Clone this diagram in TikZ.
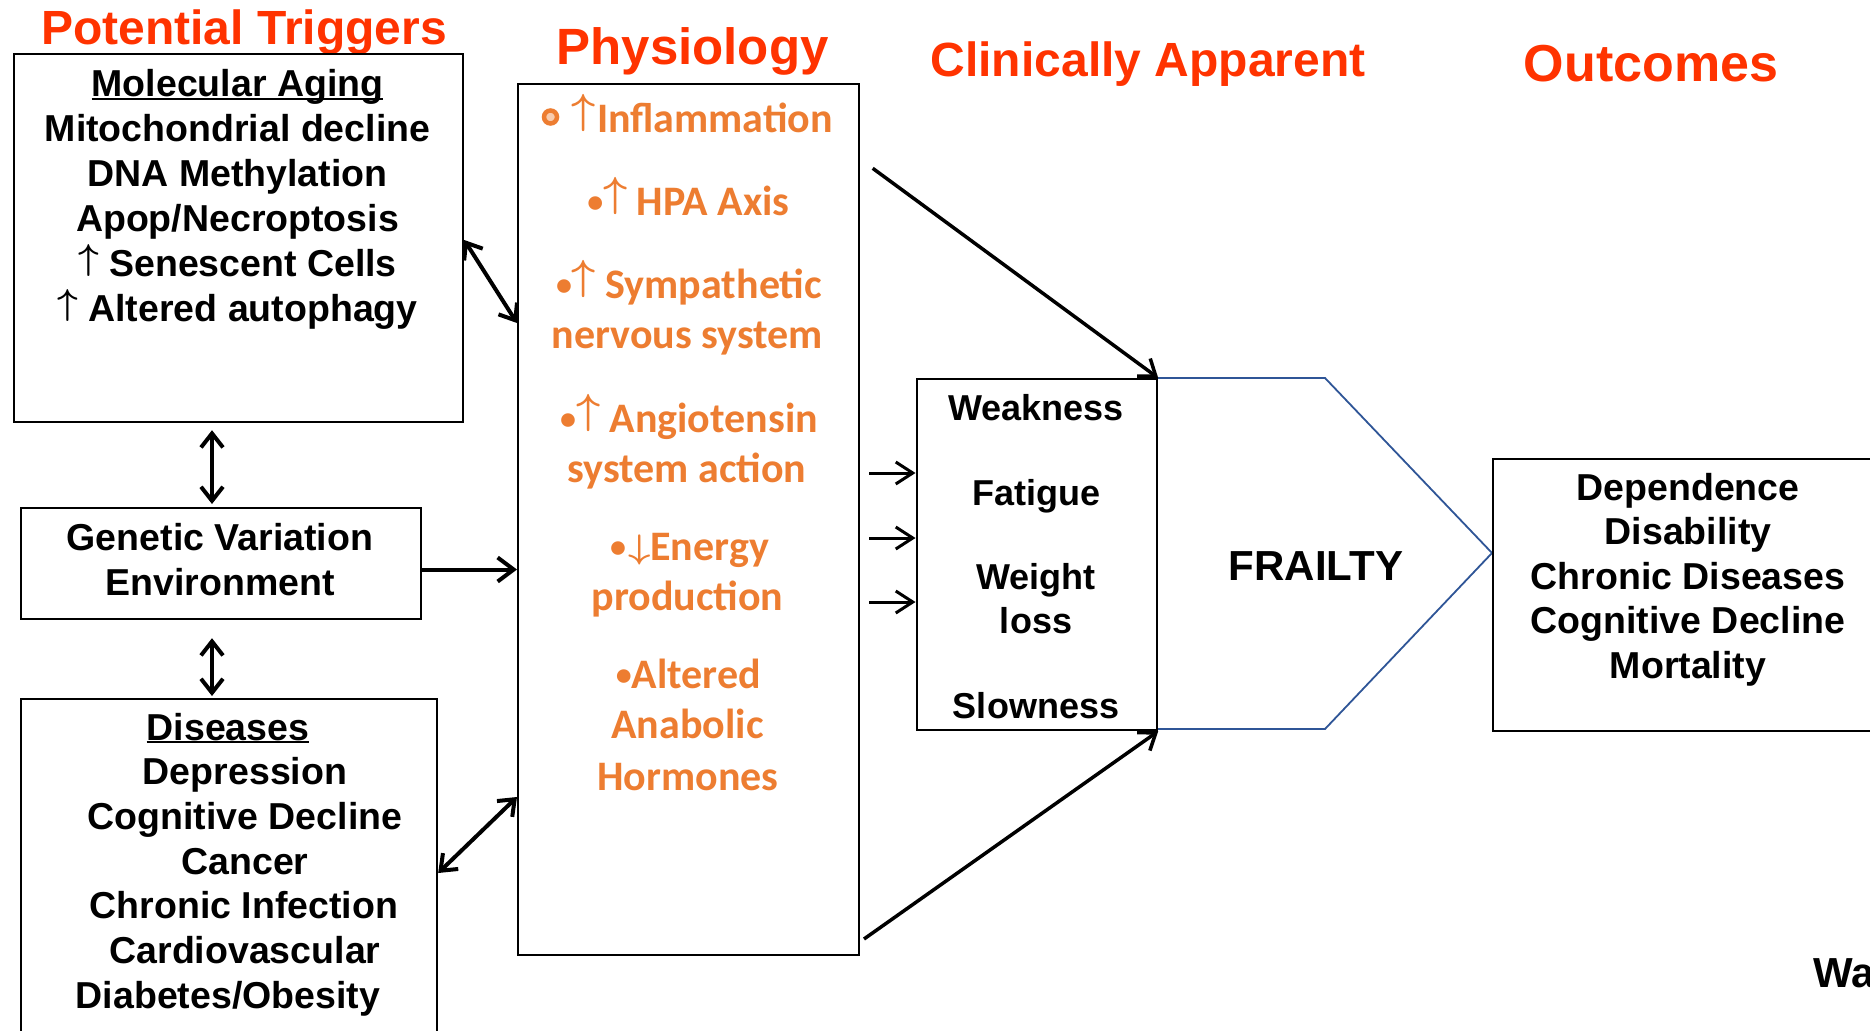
\documentclass[tikz,border=0pt]{standalone}
\usepackage{fontspec}
\usepackage{graphicx}
\setmainfont{Liberation Sans}
\newfontfamily\calfont{Carlito}
\usetikzlibrary{arrows.meta}
\definecolor{hdred}{RGB}{255,51,0}
\definecolor{phorange}{RGB}{237,125,49}
\definecolor{palefill}{RGB}{248,203,173}
\definecolor{frblue}{RGB}{47,85,151}
\newcommand\UpA[1][4.2]{\scalebox{#1}{\fontsize{10}{12}\selectfont\raisebox{1.94pt}{\boldmath$\uparrow$}}}
\newcommand\DnA[1][3.9]{\scalebox{#1}[3.4]{\fontsize{10}{12}\selectfont\raisebox{0.4pt}{\boldmath$\downarrow$}}}
\newcommand\Bul{\raisebox{2.5pt}{\fontsize{32}{32}\selectfont •}}
\newcommand\ULn[1]{\setbox0=\hbox{#1}\rlap{\rule[-3pt]{\wd0}{2pt}}\box0}
\tikzset{
  box/.style={draw, line width=2.2pt, inner sep=0pt, anchor=north west},
  blk/.style={font=\bfseries\fontsize{37.5}{45}\selectfont, anchor=base, inner sep=0pt},
  clt/.style={font=\bfseries\fontsize{36}{43}\selectfont, anchor=base, inner sep=0pt},
  orn/.style={font=\calfont\bfseries\fontsize{42}{50}\selectfont, text=phorange, anchor=base, inner sep=0pt},
  hd/.style={font=\bfseries\fontsize{#1}{#1}\selectfont, text=hdred, anchor=base, inner sep=0pt},
  dbl/.style={line width=4pt, {Straight Barb[length=14pt,width=22pt]}-{Straight Barb[length=14pt,width=22pt]}},
  sarr/.style={line width=4pt, -{Straight Barb[length=16pt,width=24pt]}},
  larr/.style={line width=3.5pt, -{Straight Barb[length=15pt,width=22pt]}},
  tarr/.style={line width=3pt, -{Straight Barb[length=17pt,width=22pt]}},
}
\begin{document}
\begin{tikzpicture}[x=1pt, y=-1pt]
\useasboundingbox (0,0) rectangle (1870,1030);
\fill[white] (0,0) rectangle (1870,1030);
\clip (0,0) rectangle (1870,1030);

% headings
\node[hd=48] (h1) at (244,45) {Potential Triggers};
\node[hd=51] (h2) at (692.5,65) {Physiology};
\node[hd=48] (h3) at (1148,76.7) {Clinically Apparent};
\node[hd=52] (h4) at (1651,81.7) {Outcomes};

% boxes
\node[box, minimum width=449pt, minimum height=368pt] (mol) at (13,53) {};
\node[box, minimum width=400pt, minimum height=111pt] (gen) at (20,507) {};
\node[box, minimum width=416pt, minimum height=360pt] (dis) at (20,698) {};
\node[box, minimum width=341pt, minimum height=871pt] (phys) at (517,83) {};
\coordinate (tip) at (1492,553);
\draw[frblue, line width=1.8pt] (1156,378) -- (1325,378) -- (tip) -- (1325,729) -- (1156,729);
\node[box, minimum width=240.5pt, minimum height=351pt] (clin) at (915.5,378) {};
\node[box, minimum width=420pt, minimum height=272pt] (outc) at (1492,458) {};

% molecular aging text
\foreach \t [count=\i] in {{\ULn{Molecular Aging}}, {Mitochondrial decline}, {DNA Methylation}, {Apop/Necroptosis}, {\UpA[3.6]\ Senescent Cells}, {\UpA[3.6]\ Altered autophagy}}
  \node[blk] (mol-t\i) at (237.5, {97+44.8*(\i-1)}) {\t};

% genetic
\node[blk] (gen-t1) at (220,550) {Genetic Variation};
\node[blk] (gen-t2) at (220,595) {Environment};

% diseases
\foreach \t/\x [count=\i] in {{\ULn{Diseases}}/228, {Depression}/245, {Cognitive Decline}/245, {Cancer}/245, {Chronic Infection}/244, {Cardiovascular}/245, {Diabetes/Obesity}/228}
  \node[blk] (dis-t\i) at (\x, {740+44.7*(\i-1)}) {\t};

% physiology text
\node[circle, draw=phorange, fill=palefill, line width=4.5pt, minimum size=13pt, inner sep=0pt] (bul) at (550.5,117) {};
\node[orn] (ph1) at (702.5,132) {\UpA\kern1pt Inflammation};
\node[orn] (ph2) at (688.5,215) {\Bul\UpA\ HPA Axis};
\node[orn] (ph3) at (689,298) {\Bul\UpA\ Sympathetic};
\node[orn] (ph4) at (687.5,348) {nervous system};
\node[orn] (ph5) at (689,432) {\Bul\UpA\ Angiotensin};
\node[orn] (ph6) at (687,482) {system action};
\node[orn] (ph7) at (689.5,560) {\Bul\kern2pt\DnA Energy};
\node[orn] (ph8) at (687.5,610) {production};
\node[orn] (ph9) at (688.5,688) {\Bul Altered};
\node[orn] (ph10) at (687.5,738) {Anabolic};
\node[orn] (ph11) at (688,790) {Hormones};

% clinically apparent
\node[clt] (cl1) at (1036,420) {Weakness};
\node[clt] (cl2) at (1036,505) {Fatigue};
\node[clt] (cl3) at (1036,589) {Weight};
\node[clt] (cl4) at (1036,633) {loss};
\node[clt] (cl5) at (1036,718) {Slowness};
\node[font=\bfseries\fontsize{42}{48}\selectfont, anchor=base, inner sep=0pt] (frail) at (1316,580) {FRAILTY};

% outcomes
\foreach \t [count=\i] in {{Dependence}, {Disability}, {Chronic Diseases}, {Cognitive Decline}, {Mortality}}
  \node[blk] (out-t\i) at (1688, {500+44.5*(\i-1)}) {\t};

\node[font=\bfseries\fontsize{42}{48}\selectfont, anchor=base west, inner sep=0pt] (wa) at (1813,987) {Wa};

% connectors
\draw[dbl] (mol.east |- 0,240) -- (phys.west |- 0,323);
\draw[dbl, shorten <=7pt, shorten >=3pt] (mol.south -| 212,0) -- (gen.north -| 212,0);
\draw[dbl, shorten <=18pt, shorten >=2pt] (gen.south -| 212,0) -- (dis.north -| 212,0);
\draw[sarr] (gen.east |- 0,569.5) -- (phys.west |- 0,569.5);
\draw[dbl] (dis.east |- 0,873) -- (phys.west |- 0,797);
\coordinate (t1) at (872.7,168.3);
\coordinate (b1) at (864,939);
\draw[larr] (t1) -- (clin.north east);
\draw[larr] (b1) -- (clin.south east);
\foreach \yy in {473,538,602}
  \draw[tarr, shorten <=9pt] (phys.east |- 0,\yy) -- (clin.west |- 0,\yy);
\end{tikzpicture}
\end{document}
